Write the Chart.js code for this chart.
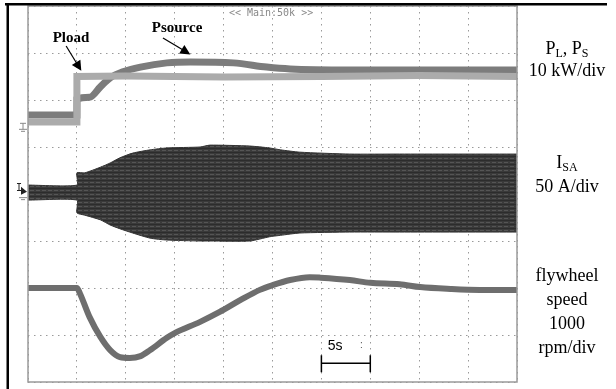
<!DOCTYPE html>
<html>
<head>
<meta charset="utf-8">
<script src="https://cdn.jsdelivr.net/npm/chart.js@4/dist/chart.umd.min.js"></script>
<style>
  html, body { margin: 0; padding: 0; background: #fff; }
  #wrap { width: 616px; height: 389px; position: relative; }
</style>
</head>
<body>
<div id="wrap"><canvas id="scope" width="616" height="389"></canvas></div>
<script>
// ---- data (time in s, amplitude in screen divisions) ----
const loadT = [0, 5, 5, 10, 20, 30, 40, 50];
const loadP = [5.53, 5.53, 6.50, 6.51, 6.49, 6.50, 6.52, 6.50];

const srcT = [0, 5, 5.01, 6.3, 7.4, 8.4, 9.7, 11.5, 14.2, 16.6, 21.0, 24.4, 26.8, 32.9, 40, 50];
const srcP = [5.68, 5.68, 6.02, 6.06, 6.28, 6.47, 6.60, 6.70, 6.79, 6.81, 6.79, 6.70, 6.66, 6.64, 6.64, 6.64];

const curT  = [0, 5, 5, 5.8, 7.4, 8.4, 9.4, 10.7, 12.5, 14.2, 17.6, 18.6, 22.7, 24.7, 25.8, 27.8, 32.9, 38.0, 50];
const curHi = [4.19, 4.19, 4.45, 4.45, 4.57, 4.66, 4.77, 4.87, 4.94, 4.98, 5.00, 5.04, 5.02, 4.98, 4.94, 4.89, 4.85, 4.85, 4.85];
const curLo = [3.87, 3.87, 3.60, 3.55, 3.45, 3.34, 3.26, 3.17, 3.06, 3.02, 3.00, 3.00, 3.00, 3.09, 3.12, 3.17, 3.19, 3.19, 3.19];

const spdT = [0, 5, 5.3, 6.3, 7.4, 8.4, 9.4, 10.4, 11.5, 12.5, 14.2, 15.0, 17.6, 19.6, 21.7, 23.7, 25.0, 26.8, 28.8, 29.9, 32.9, 35.0, 38.0, 40.1, 43.2, 46.2, 50];
const spdV = [2.00, 2.00, 1.89, 1.38, 0.96, 0.68, 0.53, 0.51, 0.55, 0.68, 0.94, 1.04, 1.28, 1.49, 1.74, 1.96, 2.06, 2.17, 2.23, 2.22, 2.17, 2.11, 2.08, 2.02, 1.98, 1.96, 1.96];

const xTicks = [0, 5, 10, 15, 20, 25, 30, 35, 40, 45, 50];
const yTicks = [0, 1, 2, 3, 4, 5, 6, 7, 8];

const pts = (xs, ys) => xs.map((x, i) => ({ x, y: ys[i] }));

// striped texture for the dense current trace
function stripes() {
  const c = document.createElement('canvas');
  c.width = 6; c.height = 4;
  const g = c.getContext('2d');
  g.fillStyle = '#3a3a3a'; g.fillRect(0, 0, 6, 4);
  g.fillStyle = '#2c2c2c'; g.fillRect(0, 0, 6, 1);
  g.fillStyle = '#555'; g.fillRect(0, 2, 4, 1);
  return g.createPattern(c, 'repeat');
}

function arrow(ctx, x1, y1, x2, y2) {
  const a = Math.atan2(y2 - y1, x2 - x1);
  ctx.beginPath(); ctx.moveTo(x1, y1); ctx.lineTo(x2 - 6 * Math.cos(a), y2 - 6 * Math.sin(a)); ctx.stroke();
  ctx.beginPath();
  ctx.moveTo(x2, y2);
  ctx.lineTo(x2 - 10 * Math.cos(a) + 5 * Math.sin(a), y2 - 10 * Math.sin(a) - 5 * Math.cos(a));
  ctx.lineTo(x2 - 10 * Math.cos(a) - 5 * Math.sin(a), y2 - 10 * Math.sin(a) + 5 * Math.cos(a));
  ctx.closePath(); ctx.fill();
}

function subText(ctx, parts, cx, y) {
  // parts: [text, isSub]
  const big = '18px "Liberation Serif"', small = '12px "Liberation Serif"';
  let w = 0;
  parts.forEach(p => { ctx.font = p[1] ? small : big; w += ctx.measureText(p[0]).width; });
  let x = cx - w / 2;
  ctx.textAlign = 'left';
  parts.forEach(p => {
    ctx.font = p[1] ? small : big;
    ctx.fillText(p[0], x, p[1] ? y + 5 : y);
    x += ctx.measureText(p[0]).width;
  });
}

const overlay = {
  id: 'overlay',
  afterDraw(chart) {
    const { ctx, chartArea: a, scales: { x, y } } = chart;
    ctx.save();
    // scope frame
    ctx.strokeStyle = '#9a9a9a'; ctx.lineWidth = 1.5;
    ctx.strokeRect(a.left, a.top, a.right - a.left, a.bottom - a.top);
    // figure border
    ctx.fillStyle = '#000';
    ctx.fillRect(5, 3, 602, 2.5);
    ctx.fillRect(6.5, 3, 2.5, 386);

    // header
    ctx.fillStyle = '#888'; ctx.font = '10px "DejaVu Sans Mono"';
    ctx.textAlign = 'center'; ctx.textBaseline = 'middle';
    ctx.fillText('<< Main:50k >>', x.getPixelForValue(24.85), y.getPixelForValue(7.85));

    // trace labels
    ctx.fillStyle = '#000'; ctx.strokeStyle = '#000'; ctx.lineWidth = 1.2;
    ctx.font = 'bold 15px "Liberation Serif"';
    ctx.fillText('Pload', x.getPixelForValue(4.4), y.getPixelForValue(7.32));
    ctx.fillText('Psource', x.getPixelForValue(15.24), y.getPixelForValue(7.53));
    arrow(ctx, x.getPixelForValue(3.9), y.getPixelForValue(7.15), x.getPixelForValue(5.45), y.getPixelForValue(6.62));
    arrow(ctx, x.getPixelForValue(13.8), y.getPixelForValue(7.32), x.getPixelForValue(16.6), y.getPixelForValue(6.97));

    // scale bar
    const b0 = x.getPixelForValue(30), b1 = x.getPixelForValue(35), by = y.getPixelForValue(0.40);
    ctx.lineWidth = 1.5;
    ctx.beginPath();
    ctx.moveTo(b0, by); ctx.lineTo(b1, by);
    ctx.moveTo(b0, by - 8); ctx.lineTo(b0, by + 9);
    ctx.moveTo(b1, by - 8); ctx.lineTo(b1, by + 9);
    ctx.stroke();
    ctx.font = '14px "Liberation Sans"'; ctx.textAlign = 'left';
    ctx.fillText('5s', x.getPixelForValue(30.65), y.getPixelForValue(0.77));
    ctx.fillStyle = '#555'; ctx.font = '10px "Liberation Sans"';
    ctx.fillText(':', x.getPixelForValue(33.95), y.getPixelForValue(0.78));

    // channel markers
    ctx.strokeStyle = '#888'; ctx.lineWidth = 1;
    const gy = y.getPixelForValue(5.44);
    ctx.beginPath();
    ctx.moveTo(20, gy - 3); ctx.lineTo(26, gy - 3); ctx.moveTo(23, gy - 3); ctx.lineTo(23, gy + 3);
    ctx.moveTo(19, gy + 3); ctx.lineTo(27, gy + 3); ctx.moveTo(21, gy + 5); ctx.lineTo(25, gy + 5);
    ctx.stroke();
    const iy = y.getPixelForValue(4.05);
    ctx.fillStyle = '#222'; ctx.font = '10px "DejaVu Sans Mono"'; ctx.textBaseline = 'middle';
    ctx.fillText('I', 16, iy - 3);
    ctx.beginPath(); ctx.moveTo(21, iy - 5); ctx.lineTo(27, iy); ctx.lineTo(21, iy + 3); ctx.closePath(); ctx.fill();
    ctx.strokeStyle = '#888';
    ctx.beginPath(); ctx.moveTo(19, iy + 6); ctx.lineTo(27, iy + 6); ctx.moveTo(21, iy + 8); ctx.lineTo(25, iy + 8); ctx.stroke();

    // right-hand legend
    ctx.fillStyle = '#000'; ctx.textBaseline = 'middle';
    const cx = a.right + 50;
    subText(ctx, [['P', false], ['L', true], [', P', false], ['S', true]], cx, 49);
    ctx.font = '18px "Liberation Serif"'; ctx.textAlign = 'center';
    ctx.fillText('10 kW/div', cx, 71);
    subText(ctx, [['I', false], ['SA', true]], cx, 163);
    ctx.font = '18px "Liberation Serif"'; ctx.textAlign = 'center';
    ctx.fillText('50 A/div', cx, 187);
    ['flywheel', 'speed', '1000', 'rpm/div'].forEach((s, i) => ctx.fillText(s, cx, 276 + i * 24));
    ctx.restore();
  }
};

const scaleOpts = (min, max, ticks) => ({
  type: 'linear', min, max,
  afterBuildTicks: s => { s.ticks = ticks.map(v => ({ value: v })); },
  ticks: { display: false },
  grid: { color: '#9a9a9a', lineWidth: 1, drawTicks: false },
  border: { display: false, dash: [1.5, 4.5] }
});

new Chart(document.getElementById('scope'), {
  type: 'line',
  data: {
    datasets: [
      { label: 'I_SA hi', data: pts(curT, curHi), borderColor: '#333', borderWidth: 1, pointRadius: 0, tension: 0.2, fill: false },
      { label: 'I_SA lo', data: pts(curT, curLo), borderColor: '#333', borderWidth: 1, pointRadius: 0, tension: 0.2, fill: '-1', backgroundColor: stripes() },
      { label: 'speed', data: pts(spdT, spdV), borderColor: '#6e6e6e', borderWidth: 6, pointRadius: 0, cubicInterpolationMode: 'monotone' },
      { label: 'Pload', data: pts(loadT, loadP), borderColor: '#ababab', borderWidth: 7, pointRadius: 0, tension: 0 },
      { label: 'Psource', data: pts(srcT, srcP), borderColor: '#7c7c7c', borderWidth: 7, pointRadius: 0, cubicInterpolationMode: 'monotone' }
    ]
  },
  options: {
    responsive: false, animation: false, devicePixelRatio: 1,
    layout: { padding: { left: 28, right: 99, top: 6, bottom: 7 } },
    plugins: { legend: { display: false }, tooltip: { enabled: false } },
    scales: { x: scaleOpts(0, 50, xTicks), y: scaleOpts(0, 8, yTicks) }
  },
  plugins: [overlay]
});
</script>
</body>
</html>
